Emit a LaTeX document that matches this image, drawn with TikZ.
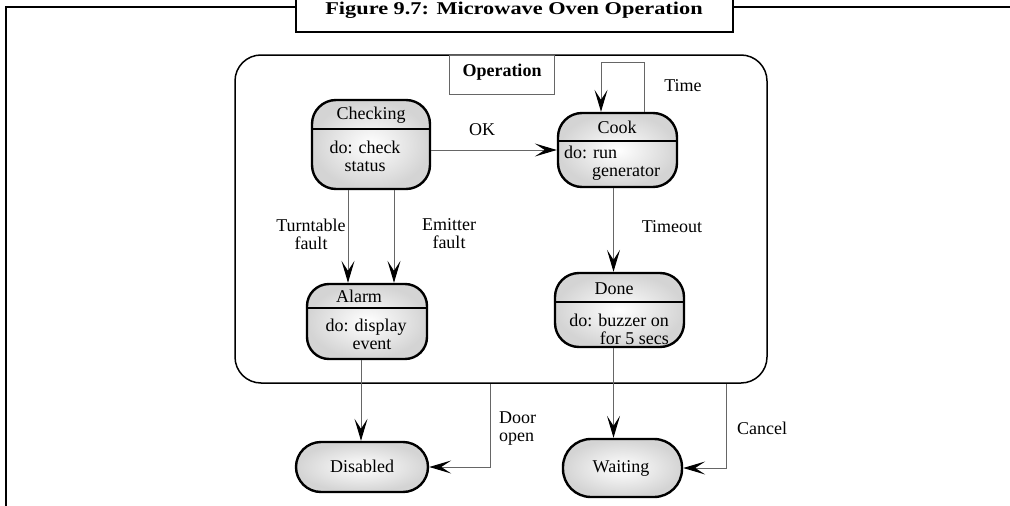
\documentclass[tikz,border=0pt]{standalone}
\usepackage{fontspec}
\setmainfont{Liberation Serif}
\usetikzlibrary{arrows.meta,calc}
\begin{document}
\begin{tikzpicture}[x=1pt,y=-1pt,
  txt/.style={font=\fontsize{18}{18}\selectfont, inner sep=0pt},
  lbl/.style={font=\fontsize{18}{18}\selectfont, inner sep=0pt, align=center},
  state/.style={draw=black, line width=2.4pt, rounded corners=#1, inner sep=0pt,
    shade, inner color=white, outer color=black!17},
  state/.default=24pt,
  conn/.style={draw=black!60, line width=1pt},
  tip/.style={-{Stealth[length=22pt,width=13pt,inset=10pt,color=black]}},
  frame/.style={draw=black, line width=2pt}
]
\useasboundingbox (0,0) rectangle (1010,506);
% outer frame
\coordinate (fbl) at (6,510);
\coordinate (ftl) at (6,7);
\coordinate (ftr) at (1012,7);
\node[frame, fill=white, minimum width=437pt, minimum height=40pt, inner sep=0pt] (titlebox) at (514.5,12) {};
\draw[frame] (fbl) -- (ftl) -- (titlebox.west |- ftl);
\draw[frame] (titlebox.east |- ftr) -- (ftr);
\node[anchor=base, inner sep=0pt] (title) at (514,15)
  {\scalebox{1.24}[1]{\bfseries\fontsize{18}{18}\selectfont Figure 9.7: Microwave Oven Operation}};

% superstate
\node[draw=black, line width=1.5pt, rounded corners=26pt, minimum width=532pt, minimum height=328pt, inner sep=0pt] (op) at (501,219) {};
\node[draw=black!60, line width=1pt, minimum width=105pt, minimum height=39pt, inner sep=0pt] (oplbl) at (501.5,74.5) {};
\node[txt, font=\bfseries\fontsize{18}{18}\selectfont] (optxt) at (502,72) {Operation};

% states
\node[state, minimum width=118pt, minimum height=89pt] (chk) at (371,144.5) {};
\draw[line width=2pt] (chk.west |- 0,129) -- (chk.east |- 0,129);
\node[txt] (chkT) at (371,115) {Checking};
\node[txt, align=center] (chkB) at (365,156) {do: check\\status};

\node[state, minimum width=119pt, minimum height=74pt] (cook) at (617.5,150) {};
\draw[line width=2pt] (cook.west |- 0,141) -- (cook.east |- 0,141);
\node[txt] (cookT) at (617,127) {Cook};
\node[txt, align=left, anchor=west] (cookB) at (564,163) {do: run\\\hspace*{28pt}generator};

\node[state=22pt, minimum width=120pt, minimum height=75pt] (alarm) at (367,321.5) {};
\draw[line width=2pt] (alarm.west |- 0,308) -- (alarm.east |- 0,308);
\node[txt] (alarmT) at (359,296) {Alarm};
\node[txt, align=center] (alarmB) at (366,334) {do: display\\\hspace*{12pt}event};

\node[state, minimum width=129pt, minimum height=74pt] (done) at (619.5,310) {};
\draw[line width=2pt] (done.west |- 0,302) -- (done.east |- 0,302);
\node[txt] (doneT) at (614,289) {Done};
\node[txt, align=right, anchor=east] (doneB) at (669,329) {do: buzzer on\\for 5 secs};

\node[state=25pt, minimum width=132pt, minimum height=50pt] (disabled) at (362,467) {};
\node[txt] (disT) at (362,466) {Disabled};

\node[state=28pt, minimum width=119pt, minimum height=58pt] (waiting) at (622.5,468) {};
\node[txt] (waitT) at (621,468) {Waiting};

% connectors
\draw[conn, tip] (chk.east |- cook.west) -- (cook.west);
\node[lbl] (okL) at (482,130) {OK};

\draw[conn, tip] ([xshift=26.5pt]cook.north) -- ++(0,-49) -| ([xshift=-16.5pt]cook.north);
\node[lbl] (timeL) at (683,86) {Time};

\draw[conn, tip] ([xshift=-23pt]chk.south) -- ([xshift=-23pt]chk.south |- alarm.north);
\draw[conn, tip] ([xshift=23pt]chk.south) -- ([xshift=23pt]chk.south |- alarm.north);
\node[lbl] (ttL) at (311,234) {Turntable\\fault};
\node[lbl] (emL) at (449,234) {Emitter\\fault};

\draw[conn, tip] ([xshift=-4pt]cook.south) -- ([xshift=-4pt]cook.south |- done.north);
\node[lbl] (toL) at (672,227) {Timeout};

\draw[conn, tip] ([xshift=-6pt]alarm.south) -- ([xshift=-6pt]alarm.south |- disabled.north);
\draw[conn, tip] ([xshift=-6pt]done.south) -- ([xshift=-6pt]done.south |- waiting.north);

\draw[conn, tip] ([xshift=-11pt]op.south) |- (disabled.east);
\node[lbl, align=left, anchor=west] (doorL) at (499,429) {Door\\open};

\draw[conn, tip] ([xshift=225pt]op.south) |- (waiting.east);
\node[lbl] (cancelL) at (762,428) {Cancel};
\end{tikzpicture}
\end{document}
